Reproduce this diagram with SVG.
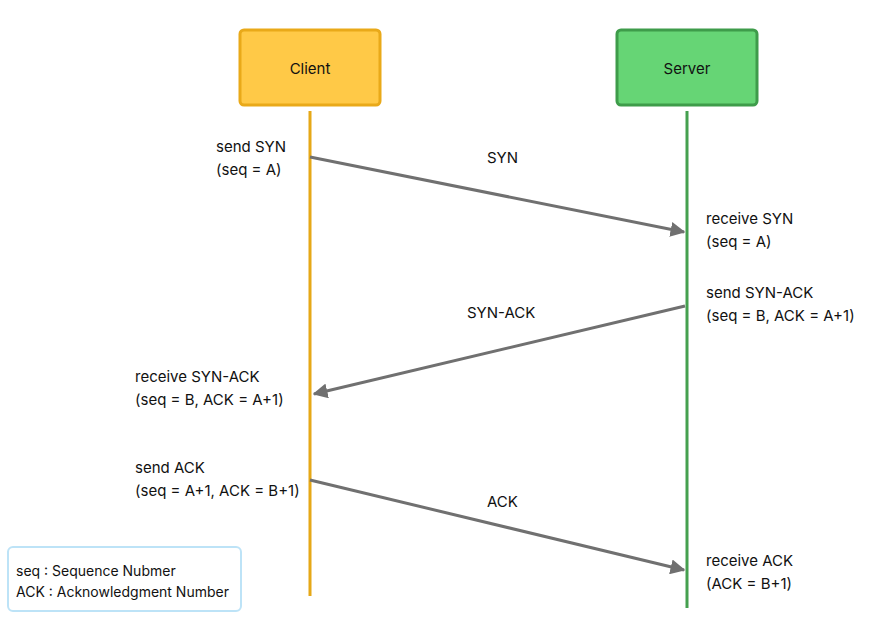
<svg xmlns="http://www.w3.org/2000/svg" width="873" height="623" viewBox="0 0 873 623">
<style>
text{font-family:Inter,"Noto Sans",sans-serif;font-size:15px;fill:#111}
.lbl{font-size:14px}
.box{stroke-width:3}
.msg{stroke:#707070;stroke-width:3;fill:none;marker-end:url(#ah)}
</style>
<defs><marker id="ah" viewBox="0 0 10 10" refX="9" refY="5" markerWidth="5" markerHeight="5" orient="auto"><path d="M0,0 L10,5 L0,10 z" fill="#707070"/></marker></defs>
<rect width="873" height="623" fill="#fff"/>
<g id="client">
<rect class="box" x="240" y="30" width="140" height="75" rx="4" fill="#FFC947" stroke="#E9A919"/>
<text x="310" y="74" text-anchor="middle" font-size="17">Client</text>
<line x1="310" y1="111" x2="310" y2="596" stroke="#E6A817" stroke-width="3"/>
</g>
<g id="server">
<rect class="box" x="617" y="30" width="140" height="75" rx="4" fill="#66D575" stroke="#3E9C4A"/>
<text x="687" y="74" text-anchor="middle" font-size="17">Server</text>
<line x1="687" y1="111" x2="687" y2="608" stroke="#45A04F" stroke-width="3"/>
</g>
<g id="connectors">
<line class="msg" x1="310" y1="157" x2="684" y2="232"/>
<line class="msg" x1="685" y1="306" x2="314" y2="394"/>
<line class="msg" x1="310" y1="480" x2="684" y2="570"/>
</g>
<g id="labels">
<text x="487" y="163">SYN</text>
<text x="467" y="318">SYN-ACK</text>
<text x="487" y="507">ACK</text>
<text x="216" y="152">send SYN</text>
<text x="216" y="175">(seq = A)</text>
<text x="706" y="224">receive SYN</text>
<text x="706" y="247">(seq = A)</text>
<text x="706" y="298">send SYN-ACK</text>
<text x="706" y="321">(seq = B, ACK = A+1)</text>
<text x="135" y="382">receive SYN-ACK</text>
<text x="135" y="405">(seq = B, ACK = A+1)</text>
<text x="135" y="473">send ACK</text>
<text x="135" y="496">(seq = A+1, ACK = B+1)</text>
<text x="706" y="566">receive ACK</text>
<text x="706" y="589">(ACK = B+1)</text>
</g>
<g id="legend">
<rect x="8" y="547" width="233" height="64" rx="5" fill="#fff" stroke="#BDE3F7" stroke-width="2"/>
<text class="lbl" x="16" y="576">seq : Sequence Nubmer</text>
<text class="lbl" x="16" y="597">ACK : Acknowledgment Number</text>
</g>
</svg>
